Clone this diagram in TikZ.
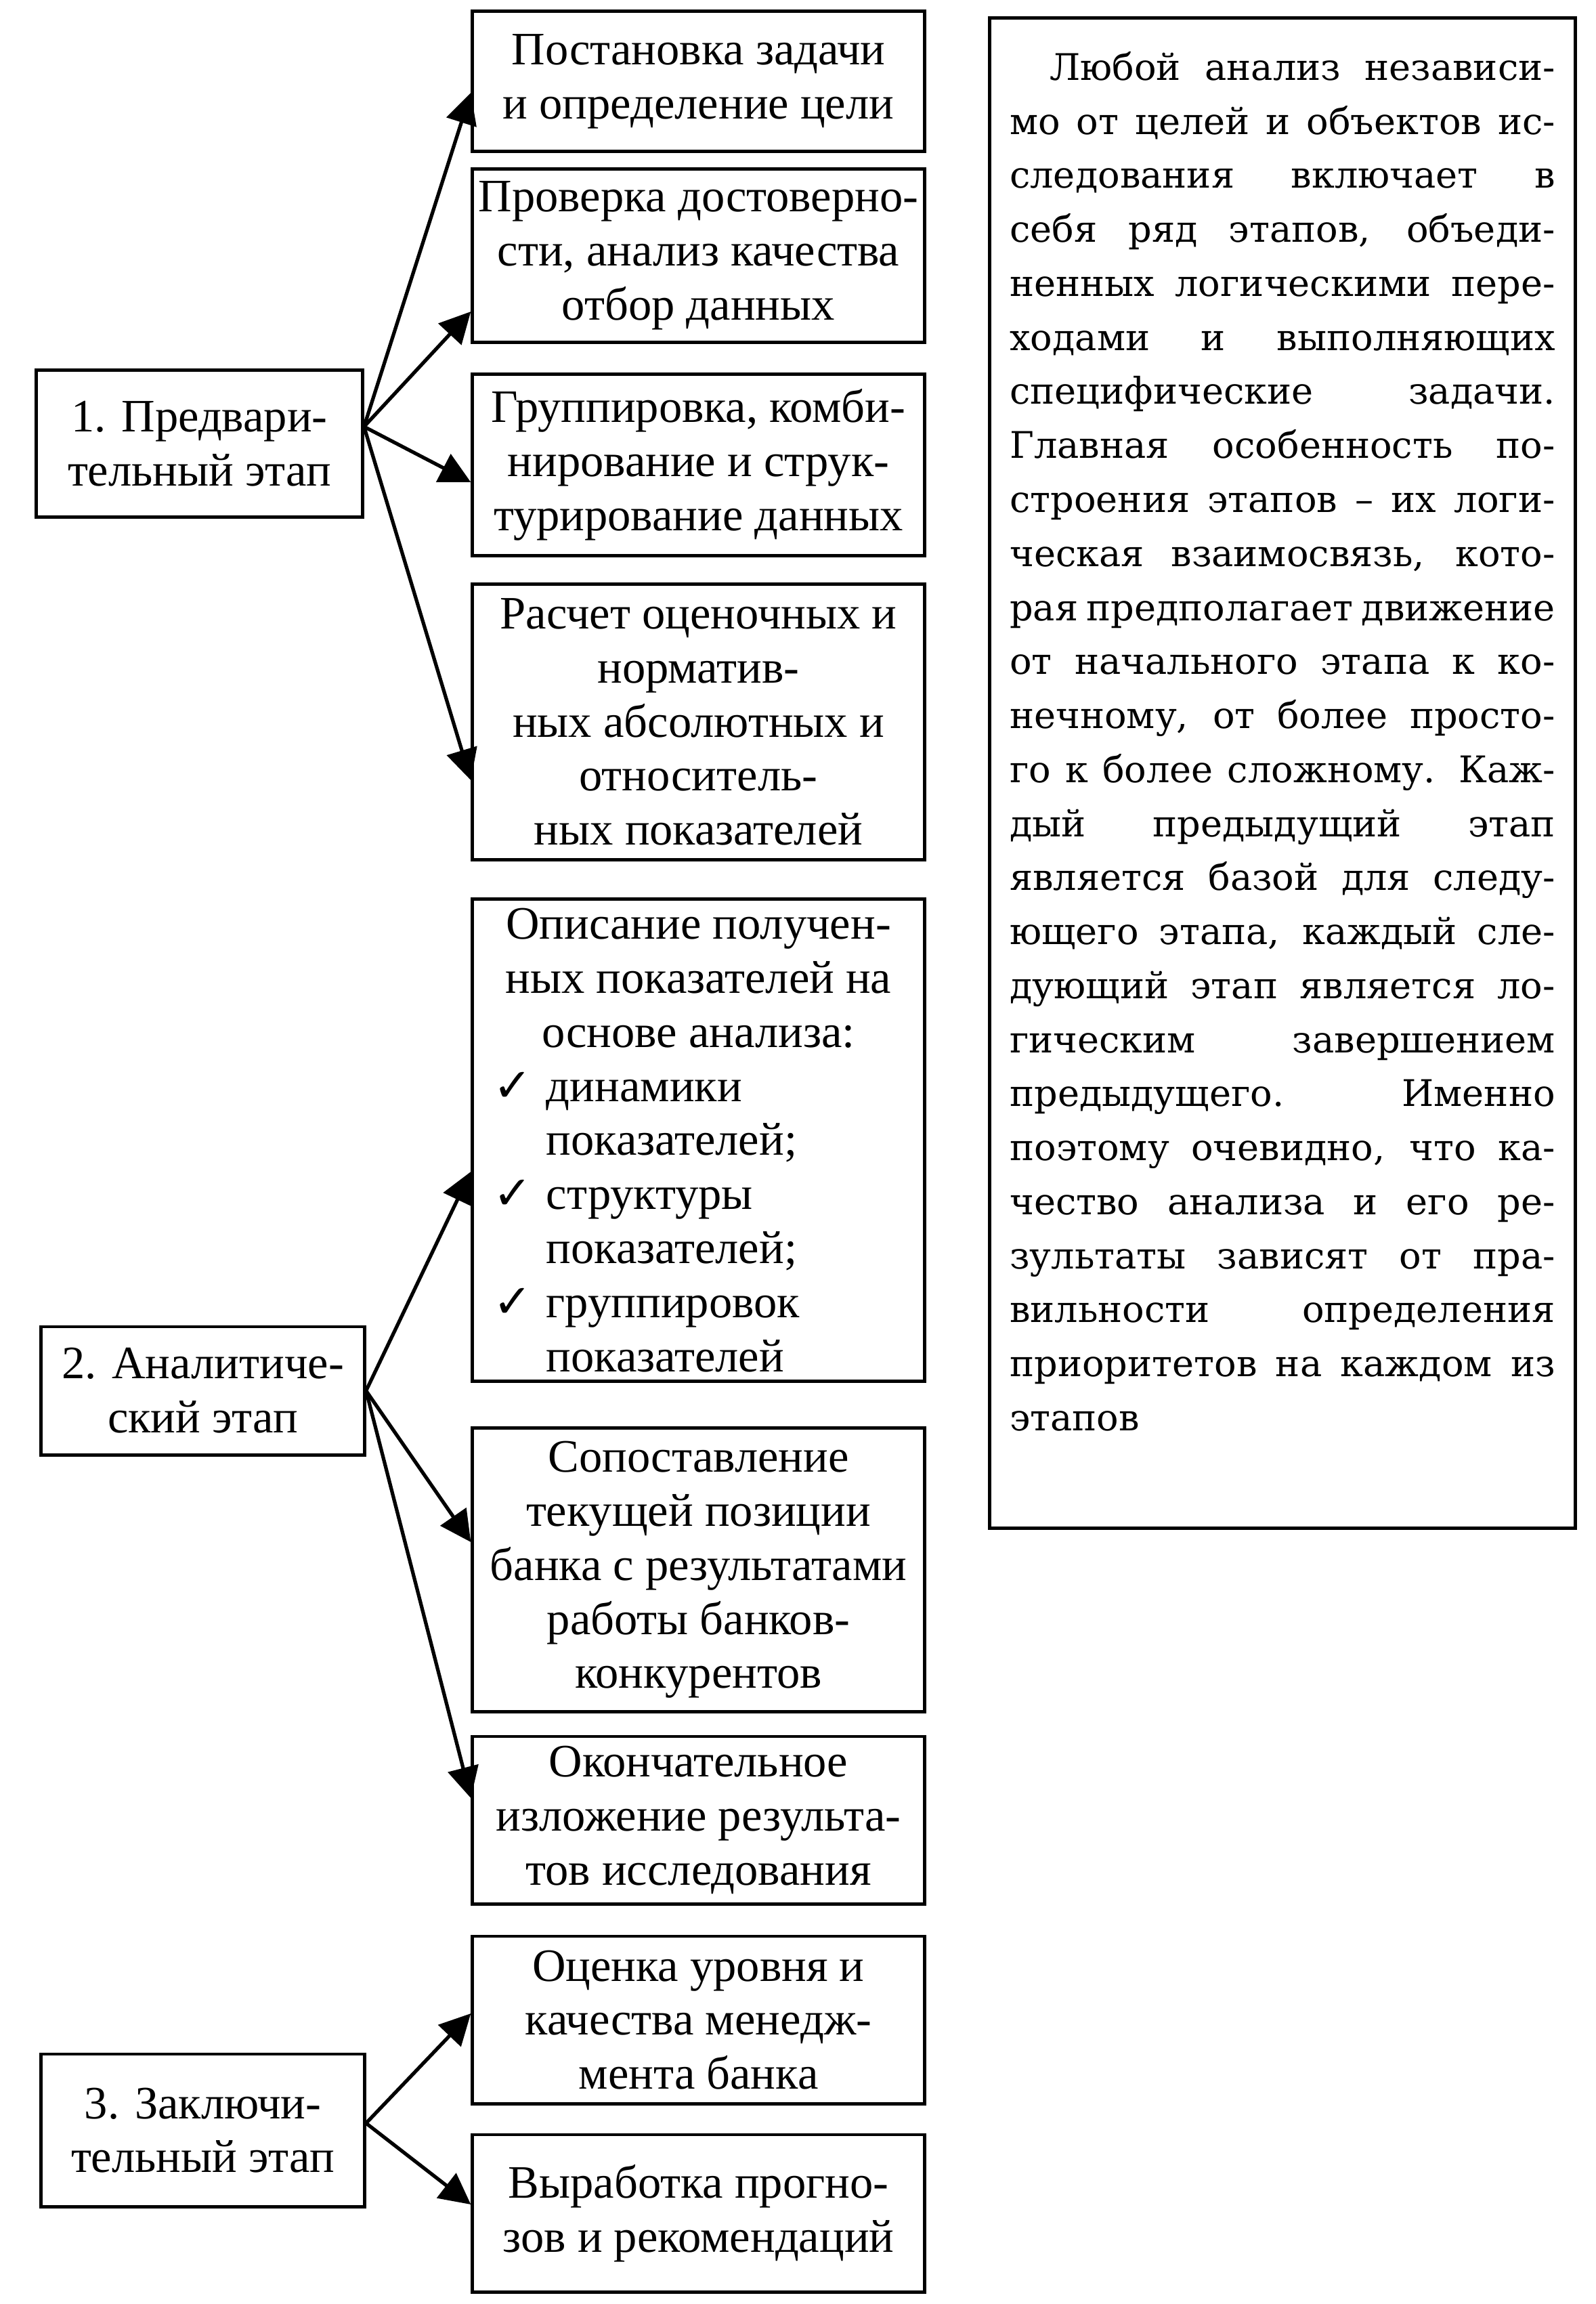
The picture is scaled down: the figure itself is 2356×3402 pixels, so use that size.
\documentclass[tikz,border=0pt]{standalone}
\usepackage{fontspec}
\setmainfont{Liberation Serif}
\newfontfamily\notefont{DejaVu Serif}
\newfontfamily\chkfont{DejaVu Sans}
\usetikzlibrary{arrows.meta}
\newcommand{\chkmk}{\makebox[0.78cm][l]{\chkfont ✓}}
\newcommand{\jl}[1]{\makebox[\linewidth][s]{#1}\par}
\begin{document}
\begin{tikzpicture}[x=0.01cm,y=-0.01cm,
  box/.style={draw, line width=1.4pt, inner sep=0pt, align=center, font=\fontsize{19.5}{22.7}\selectfont},
  rbox/.style={box, minimum width=6.67cm},
  lbox/.style={box, minimum width=4.8cm},
  conn/.style={line width=1.5pt, -{Triangle[length=13pt,width=13pt]}}]
\useasboundingbox[fill=white] (0,0) rectangle (2356,3402);
% right column boxes
\node[rbox, minimum height=2.06cm] (b1) at (1031.5,120) {Постановка задачи\\и определение цели};
\node[rbox, minimum height=2.55cm] (b2) at (1031.5,377.5) {Проверка достоверно-\\сти, анализ качества\\отбор данных};
\node[rbox, minimum height=2.67cm] (b3) at (1031.5,686.5) {Группировка, комби-\\нирование и струк-\\турирование данных};
\node[rbox, minimum height=4.06cm] (b4) at (1031.5,1066) {Расчет оценочных и\\норматив-\\ных абсолютных и\\относитель-\\ных показателей};
\node[rbox, minimum height=7.11cm] (b5) at (1031.5,1683.5) {\begin{minipage}{6.05cm}\centering
Описание получен-\\ных показателей на\\основе анализа:\par
\raggedright
\chkmk динамики\\
\hspace*{0.78cm}показателей;\\
\chkmk структуры\\
\hspace*{0.78cm}показателей;\\
\chkmk группировок\\
\hspace*{0.78cm}показателей\par
\end{minipage}};
\node[rbox, minimum height=4.18cm] (b6) at (1031.5,2318) {Сопоставление\\текущей позиции\\банка с результатами\\работы банков-\\конкурентов};
\node[rbox, minimum height=2.47cm] (b7) at (1031.5,2687.5) {Окончательное\\изложение результа-\\тов исследования};
\node[rbox, minimum height=2.47cm] (b8) at (1031.5,2982.5) {Оценка уровня и\\качества менедж-\\мента банка};
\node[rbox, minimum height=2.32cm] (b9) at (1031.5,3268) {Выработка прогно-\\зов и рекомендаций};
% left stage boxes
\node[lbox, minimum width=4.81cm, minimum height=2.16cm] (s1) at (294.5,655) {1. Предвари-\\тельный этап};
\node[lbox, minimum width=4.77cm, minimum height=1.89cm] (s2) at (299.5,2053.5) {2. Аналитиче-\\ский этап};
\node[lbox, minimum width=4.77cm, minimum height=2.25cm] (s3) at (299.5,3145.5) {3. Заключи-\\тельный этап};
% note box
\node[draw, line width=1.4pt, inner xsep=0.295cm, inner ysep=0.3cm] (note) at (1894,1141.5) {\begin{minipage}[t][21.69cm][t]{8.05cm}
\notefont\fontsize{15.4}{22.68}\selectfont\parindent=0pt
\vspace*{0.2cm}
\hspace*{0.59cm}\makebox[\dimexpr\linewidth-0.59cm][s]{Любой анализ независи-}\par
\jl{мо от целей и объектов ис-}
\jl{следования включает в}
\jl{себя ряд этапов, объеди-}
\jl{ненных логическими пере-}
\jl{ходами и выполняющих}
\jl{специфические задачи.}
\jl{Главная особенность по-}
\jl{строения этапов – их логи-}
\jl{ческая взаимосвязь, кото-}
\jl{рая предполагает движение}
\jl{от начального этапа к ко-}
\jl{нечному, от более просто-}
\jl{го к более сложному. Каж-}
\jl{дый предыдущий этап}
\jl{является базой для следу-}
\jl{ющего этапа, каждый сле-}
\jl{дующий этап является ло-}
\jl{гическим завершением}
\jl{предыдущего. Именно}
\jl{поэтому очевидно, что ка-}
\jl{чество анализа и его ре-}
\jl{зультаты зависят от пра-}
\jl{вильности определения}
\jl{приоритетов на каждом из}
этапов\par
\end{minipage}};
% connectors
\draw[conn] ([yshift=0.25cm]s1.east) -- ([yshift=-0.17cm]b1.west);
\draw[conn] ([yshift=0.25cm]s1.east) -- ([yshift=-0.825cm]b2.west);
\draw[conn] ([yshift=0.25cm]s1.east) -- ([yshift=-0.255cm]b3.west);
\draw[conn] ([yshift=0.25cm]s1.east) -- ([yshift=-0.86cm]b4.west);
\draw[conn] (s2.east) -- ([yshift=-0.465cm]b5.west);
\draw[conn] (s2.east) -- ([yshift=0.41cm]b6.west);
\draw[conn] (s2.east) -- ([yshift=0.325cm]b7.west);
\draw[conn] ([yshift=0.105cm]s3.east) -- ([yshift=0.095cm]b8.west);
\draw[conn] ([yshift=0.105cm]s3.east) -- ([yshift=0.13cm]b9.west);
\end{tikzpicture}
\end{document}
